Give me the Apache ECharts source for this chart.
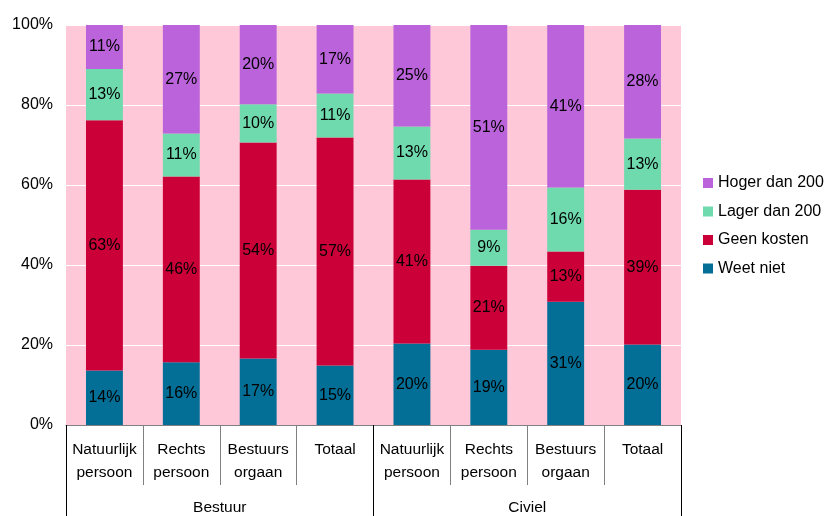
<!DOCTYPE html>
<html>
<head>
<meta charset="utf-8">
<script src="https://cdn.jsdelivr.net/npm/echarts@6/dist/echarts.min.js"></script>
<style>
  html, body { margin: 0; padding: 0; background: #ffffff; }
  #chart { width: 827px; height: 516px; }
</style>
</head>
<body>
<div id="chart"></div>
<script>
// Kosten per type partij, in procenten (per kolom opgeteld tot 100%)
const categories = [
  'Natuurlijk\npersoon', 'Rechts\npersoon', 'Bestuurs\norgaan', 'Totaal',
  'Natuurlijk\npersoon', 'Rechts\npersoon', 'Bestuurs\norgaan', 'Totaal'
];
const groups = ['Bestuur', 'Civiel'];

const weetNiet     = [13.6, 15.7, 16.6, 14.9, 20.4, 18.8, 30.8, 20.1];
const geenKosten   = [62.6, 46.4, 54.0, 57.0, 41.0, 21.0, 12.6, 38.7];
const lagerDan200  = [12.8, 10.8,  9.6, 11.0, 13.2,  9.0, 16.0, 12.8];
const hogerDan200  = [11.0, 27.1, 19.8, 17.1, 25.4, 51.2, 40.6, 28.4];

const yTicks = [0, 20, 40, 60, 80, 100];

const FONT = '"Liberation Sans", Arial, sans-serif';

function makeSeries(name, data, color) {
  return {
    name: name,
    type: 'bar',
    stack: 'totaal',
    data: data,
    barWidth: '48%',
    itemStyle: { color: color },
    label: {
      show: true,
      position: 'inside',
      color: '#000000',
      fontFamily: FONT,
      fontSize: 16,
      formatter: p => Math.round(p.value) + '%'
    },
    emphasis: { disabled: true }
  };
}

const chart = echarts.init(document.getElementById('chart'), null, { renderer: 'canvas' });

chart.setOption({
  animation: false,
  backgroundColor: '#ffffff',
  textStyle: { fontFamily: FONT },
  grid: {
    left: 66, right: 146, top: 25, bottom: 91,
    show: true,
    backgroundColor: '#FFC8D9',
    borderWidth: 0
  },
  legend: {
    orient: 'vertical',
    left: 703,
    top: 175,
    padding: 0,
    itemWidth: 10,
    itemHeight: 10,
    itemGap: 12.5,
    icon: 'rect',
    textStyle: { fontFamily: FONT, fontSize: 16, color: '#000000' },
    data: ['Hoger dan 200', 'Lager dan 200', 'Geen kosten', 'Weet niet']
  },
  xAxis: [
    {
      type: 'category',
      data: categories,
      position: 'bottom',
      axisLine: { show: true, lineStyle: { color: '#808080', width: 1 } },
      axisTick: { show: true, alignWithLabel: false, length: 60, lineStyle: { color: '#808080' } },
      axisLabel: {
        interval: 0,
        margin: 13,
        fontFamily: FONT,
        fontSize: 15.5,
        color: '#000000',
        lineHeight: 23
      }
    },
    {
      type: 'category',
      data: groups,
      position: 'bottom',
      axisLine: { show: false },
      axisTick: { show: true, length: 92, lineStyle: { color: '#000000' } },
      axisLabel: {
        interval: 0,
        margin: 75,
        fontFamily: FONT,
        fontSize: 15.5,
        color: '#000000'
      }
    }
  ],
  yAxis: {
    type: 'value',
    min: yTicks[0],
    max: yTicks[yTicks.length - 1],
    interval: 20,
    axisLine: { show: false },
    axisTick: { show: false },
    splitLine: { show: true, lineStyle: { color: '#ffffff', width: 1 } },
    axisLabel: {
      margin: 13,
      fontFamily: FONT,
      fontSize: 16,
      color: '#000000',
      formatter: v => v + '%'
    }
  },
  series: [
    makeSeries('Weet niet', weetNiet, '#036E96'),
    makeSeries('Geen kosten', geenKosten, '#CC0039'),
    makeSeries('Lager dan 200', lagerDan200, '#6FDAAE'),
    makeSeries('Hoger dan 200', hogerDan200, '#BB63DB')
  ]
});
</script>
</body>
</html>
